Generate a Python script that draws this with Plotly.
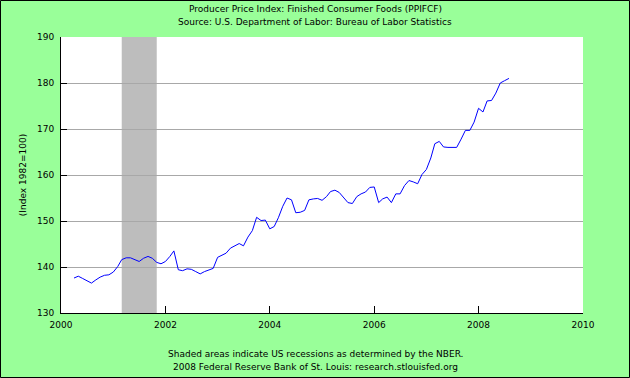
import plotly.graph_objects as go
import pandas as pd

dates = pd.date_range("2000-04-01", "2008-08-01", freq="MS").strftime("%Y-%m-%d").tolist()
ppi = [137.6, 138.0, 137.5, 137.0, 136.5, 137.2, 137.8, 138.2, 138.3, 138.9,
       140.1, 141.6, 142.0, 142.0, 141.6, 141.2, 141.9, 142.3, 141.9, 141.0,
       140.7, 141.2, 142.3, 143.5, 139.4, 139.2, 139.6, 139.5, 139.0, 138.5,
       139.0, 139.4, 139.7, 142.1, 142.6, 143.0, 144.1, 144.6, 145.1, 144.6,
       146.5, 147.9, 150.8, 150.1, 150.2, 148.3, 148.8, 150.7, 153.2, 155.0,
       154.6, 151.8, 151.9, 152.3, 154.6, 154.8, 154.9, 154.5, 155.3, 156.4,
       156.7, 156.2, 155.1, 154.0, 153.8, 155.3, 155.9, 156.3, 157.3, 157.4,
       154.0, 154.8, 155.2, 154.0, 155.9, 155.9, 157.7, 158.8, 158.5, 158.1,
       160.1, 161.2, 163.7, 166.8, 167.3, 166.1, 166.0, 166.0, 166.0, 167.8,
       169.7, 169.7, 171.5, 174.5, 173.7, 176.1, 176.2, 177.8, 180.0, 180.5,
       181.0]

recession_start = "2001-03-01"
recession_end = "2001-11-01"

x_tick_vals = ["2000-01-01", "2002-01-01", "2004-01-01", "2006-01-01", "2008-01-01", "2010-01-01"]
x_tick_text = ["2000", "2002", "2004", "2006", "2008", "2010"]
y_tick_vals = [130, 140, 150, 160, 170, 180, 190]

title_lines = ["Producer Price Index: Finished Consumer Foods (PPIFCF)",
               "Source: U.S. Department of Labor: Bureau of Labor Statistics"]
footer_lines = ["Shaded areas indicate US recessions as determined by the NBER.",
                "2008 Federal Reserve Bank of St. Louis: research.stlouisfed.org"]
y_title = "(Index 1982=100)"

W, H = 630, 378
ML, MR, MT, MB = 61, 47, 37, 65
PW, PH = W - ML - MR, H - MT - MB
FONT = "DejaVu Sans"
FS = 9
BG = "#99FF99"

fig = go.Figure()
fig.add_trace(go.Scatter(x=dates, y=ppi, mode="lines",
                         line=dict(color="#0000FF", width=1), showlegend=False))

shapes = [
    dict(type="rect", xref="x", yref="paper", x0=recession_start, x1=recession_end,
         y0=0, y1=1, fillcolor="#BDBDBD", line=dict(width=0), layer="below"),
    dict(type="rect", xref="paper", yref="paper",
         x0=-(ML - 0.5) / PW, x1=1 + (MR - 0.5) / PW,
         y0=-(MB - 0.5) / PH, y1=1 + (MT - 0.5) / PH,
         line=dict(color="black", width=1), fillcolor="rgba(0,0,0,0)"),
]

annotations = []
for i, t in enumerate(title_lines):
    annotations.append(dict(text=t, xref="paper", yref="paper", x=(W / 2 - ML) / PW,
                            y=1 + (MT - 9 - 13 * i) / PH, showarrow=False,
                            xanchor="center", yanchor="middle",
                            font=dict(family=FONT, size=FS, color="black")))
for i, t in enumerate(footer_lines):
    annotations.append(dict(text=t, xref="paper", yref="paper", x=(W / 2 - ML) / PW,
                            y=-(354 + 13 * i - MT - PH) / PH, showarrow=False,
                            xanchor="center", yanchor="middle",
                            font=dict(family=FONT, size=FS, color="black")))

fig.update_layout(
    width=W, height=H,
    margin=dict(l=ML, r=MR, t=MT, b=MB, pad=0),
    paper_bgcolor=BG, plot_bgcolor="white",
    shapes=shapes, annotations=annotations,
    font=dict(family=FONT, size=FS, color="black"),
    xaxis=dict(type="date", range=["2000-01-01", "2010-01-01"],
               tickvals=x_tick_vals, ticktext=x_tick_text,
               ticks="inside", ticklen=7, tickcolor="black", tickwidth=1,
               showline=True, linecolor="black", linewidth=1,
               showgrid=False, zeroline=False, ticklabelstandoff=3,
               tickfont=dict(family=FONT, size=FS)),
    yaxis=dict(range=[130, 190], tickvals=y_tick_vals,
               ticks="inside", ticklen=6, tickcolor="black", tickwidth=1,
               showline=True, linecolor="black", linewidth=1,
               showgrid=True, gridcolor="#A8A8A8", gridwidth=1, zeroline=False,
               ticklabelstandoff=4,
               tickfont=dict(family=FONT, size=FS),
               title=dict(text=y_title, font=dict(family=FONT, size=FS), standoff=8)),
)

fig.write_html("out.html", config={"displayModeBar": False},
               post_script="document.body.style.margin='0';document.body.style.overflow='hidden';")
